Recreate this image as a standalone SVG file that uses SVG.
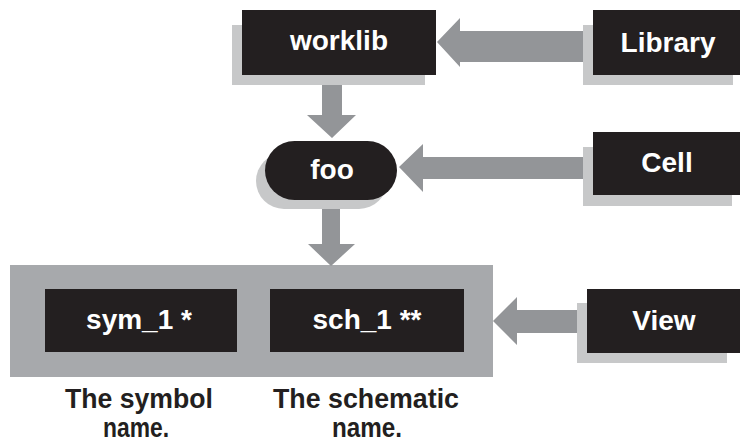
<svg xmlns="http://www.w3.org/2000/svg" width="740" height="444" viewBox="0 0 740 444">
<style>
.box{fill:#231f20}
.shadow{fill:#c7c8c9}
.arrow{fill:#939598}
.group{fill:#a7a9ac}
.lbl{font-family:"Liberation Sans",Arial,sans-serif;font-weight:bold;font-size:28px;fill:#ffffff;text-anchor:middle}
.cap{font-family:"Liberation Sans",Arial,sans-serif;font-weight:bold;font-size:28px;fill:#231f20;text-anchor:middle}
</style>
<rect width="740" height="444" fill="#ffffff"/>
<g id="views-group">
<rect class="group" x="10" y="265" width="483" height="112"/>
</g>
<g id="connectors">
<polygon class="arrow" points="593,31 460,31 460,18 437,42 460,67 460,62 593,62"/>
<polygon class="arrow" points="322,75 342,75 342,115 356,115 332,138 307,115 322,115"/>
<polygon class="arrow" points="593,157 423,157 423,144 399,167 423,192 423,179 593,179"/>
<polygon class="arrow" points="322,200 340,200 340,244 355,244 331,266 308,244 322,244"/>
<polygon class="arrow" points="587,310 517,310 517,297 493,321 517,345 517,333 587,333"/>
</g>
<g id="worklib">
<rect class="shadow" x="232" y="25" width="193" height="60"/>
<rect class="box" x="242" y="10" width="194" height="65"/>
<text class="lbl" x="339" y="50">worklib</text>
</g>
<g id="library">
<rect class="shadow" x="583" y="25" width="150" height="60"/>
<rect class="box" x="593" y="10" width="147" height="65"/>
<text class="lbl" x="668" y="52">Library</text>
</g>
<g id="foo">
<rect class="shadow" x="256" y="153" width="131" height="56" rx="28"/>
<rect class="box" x="265" y="141" width="132" height="59" rx="29.5"/>
<text class="lbl" x="332" y="179">foo</text>
</g>
<g id="cell">
<rect class="shadow" x="583" y="147" width="149" height="59"/>
<rect class="box" x="593" y="132" width="147" height="63"/>
<text class="lbl" x="667" y="172">Cell</text>
</g>
<g id="view">
<rect class="shadow" x="577" y="303" width="150" height="60"/>
<rect class="box" x="587" y="289" width="153" height="64"/>
<text class="lbl" x="664" y="330">View</text>
</g>
<g id="sym_1">
<rect class="box" x="45" y="289" width="192" height="63"/>
<text class="lbl" x="139" y="329">sym_1 *</text>
</g>
<g id="sch_1">
<rect class="box" x="270" y="289" width="194" height="63"/>
<text class="lbl" x="367" y="329">sch_1 **</text>
</g>
<g id="captions">
<text class="cap" x="139" y="408" textLength="148" lengthAdjust="spacingAndGlyphs">The symbol</text>
<text class="cap" x="136" y="437" textLength="66" lengthAdjust="spacingAndGlyphs">name.</text>
<text class="cap" x="366" y="408" textLength="186" lengthAdjust="spacingAndGlyphs">The schematic</text>
<text class="cap" x="367" y="437" textLength="70" lengthAdjust="spacingAndGlyphs">name.</text>
</g>
</svg>
